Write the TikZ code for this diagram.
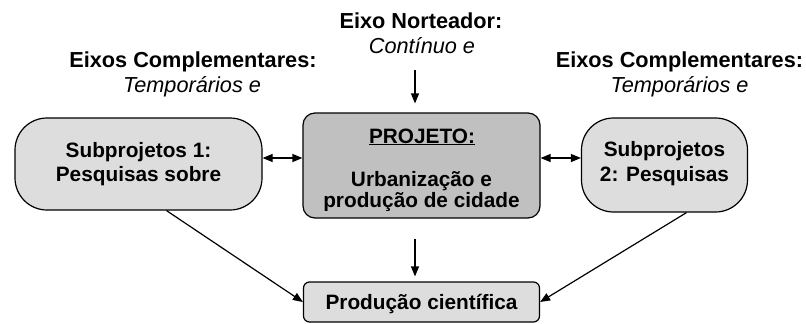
\documentclass[tikz,border=0pt]{standalone}
\usepackage{fontspec}
\setmainfont{Liberation Sans}
\usetikzlibrary{arrows.meta}

\definecolor{cinzaclaro}{HTML}{DDDDDD}
\definecolor{cinzaescuro}{HTML}{C0C0C0}
\def\fs{\fontsize{20.8}{24}\selectfont}
\def\fl{\fontsize{21.7}{25}\selectfont}
\tikzstyle{bx}=[draw=black,line width=1.2pt,inner sep=0pt]
\tikzstyle{sub}=[bx,fill=cinzaclaro,rounded corners=32pt]
\tikzstyle{pj}=[bx,fill=cinzaescuro,rounded corners=12pt]
\tikzstyle{pd}=[bx,fill=cinzaclaro,rounded corners=6pt]
\tikzstyle{tx}=[anchor=base,inner sep=0pt,font=\bfseries\fs]
\tikzstyle{lb}=[anchor=base,inner sep=0pt,font=\bfseries\fl]
\tikzstyle{it}=[anchor=base,inner sep=0pt,font=\itshape\fl]
\tikzstyle{seta}=[-{Triangle[length=10pt,width=8pt]},line width=1.2pt]
\tikzstyle{dupla}=[{Triangle[length=10pt,width=8pt]}-{Triangle[length=10pt,width=8pt]},line width=1.2pt]

\begin{document}
\begin{tikzpicture}[x=1pt,y=-1pt]
	\useasboundingbox (0,0) rectangle (806,324);
	% caixas
	\node[sub,minimum width=247pt,minimum height=92pt] (sub1) at (138.5,164) {};
	\node[pj,minimum width=237pt,minimum height=105pt] (proj) at (421.5,165.5) {};
	\node[sub,minimum width=166pt,minimum height=94pt] (sub2) at (664.5,165) {};
	\node[pd,minimum width=236pt,minimum height=40pt] (prod) at (421.5,302) {};
	% textos das caixas
	\node[tx] (s1a) at (138.5,157) {Subprojetos 1:};
	\node[tx] (s1b) at (138.5,181) {Pesquisas sobre};
	\node[tx] (s2a) at (664.5,156) {Subprojetos};
	\node[tx] (s2b) at (664.5,181) {2: Pesquisas};
	\node[tx] (pj1) at (422,143) {\underline{PROJETO:}};
	\node[tx] (pj2) at (421.5,186) {Urbanização e};
	\begin{scope}
		\clip (303,113) rectangle (540,210);
		\node[tx] (pj3) at (421.5,207) {produção de cidade};
	\end{scope}
	\node[tx] (pd1) at (421.5,309) {Produção científica};
	% eixos
	\node[lb] (norte) at (421,28) {Eixo Norteador:};
	\node[it] (cont) at (422,53) {Contínuo e};
	\node[lb] (comp1) at (193,67) {Eixos Complementares:};
	\node[it] (temp1) at (192,92) {Temporários e};
	\node[lb] (comp2) at (679.5,67) {Eixos Complementares:};
	\node[it] (temp2) at (679.5,92) {Temporários e};
	% setas
	\coordinate (n0) at (415,70);
	\draw[seta,shorten >=9pt] (n0) -- (n0 |- proj.north);
	\draw[dupla] ([yshift=6pt]sub1.east) -- ([yshift=7.5pt]proj.west);
	\draw[dupla] ([yshift=7.5pt]proj.east) -- ([yshift=7pt]sub2.west);
	\draw[seta,shorten <=20pt,shorten >=5pt] (n0 |- proj.south) -- (n0 |- prod.north);
	\draw[seta] ([xshift=28pt]sub1.south) -- (prod.west);
	\draw[seta] ([xshift=22pt]sub2.south) -- (prod.east);
\end{tikzpicture}
\end{document}
